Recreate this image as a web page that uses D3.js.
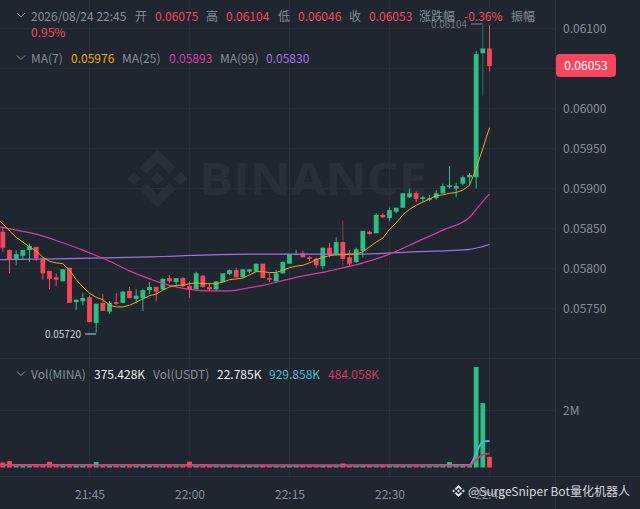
<!DOCTYPE html>
<html>
<head>
<meta charset="utf-8">
<script src="https://d3js.org/d3.v7.min.js"></script>
<style>
html, body { margin: 0; padding: 0; background: #1f2630; }
#container { width: 640px; height: 509px; overflow: hidden; }
svg { display: block; font-family: 'Noto Sans CJK SC', 'Noto Sans', sans-serif; }
</style>
</head>
<body>
<div id="container"></div>
<script>
// one minute candles, 21:32 to 22:45
const opens = [0.05846,0.05823,0.05812,0.05816,0.05823,0.05827,0.05812,0.05797,0.05789,0.05784,0.05801,0.05758,0.05759,0.05764,0.05732,0.05757,0.05746,0.05758,0.05757,0.05772,0.05762,0.05763,0.05773,0.05777,0.05774,0.05788,0.05783,0.05788,0.05778,0.05774,0.05791,0.05777,0.05774,0.05783,0.05793,0.05798,0.05789,0.05796,0.05796,0.05806,0.05788,0.05784,0.05794,0.05806,0.05817,0.05819,0.05814,0.05812,0.05803,0.05826,0.05818,0.05833,0.05814,0.05808,0.05822,0.05846,0.05844,0.05867,0.05863,0.05871,0.05876,0.05889,0.05894,0.05887,0.05886,0.05888,0.05894,0.05902,0.05900,0.05906,0.05914,0.05914,0.06069,0.06075];
const highs = [0.05852,0.05824,0.05823,0.05823,0.05831,0.05827,0.05813,0.05797,0.05794,0.05799,0.05801,0.05761,0.05769,0.05766,0.05756,0.05768,0.05759,0.05769,0.05772,0.05777,0.05774,0.05774,0.05783,0.05777,0.05788,0.05792,0.05788,0.05789,0.05784,0.05796,0.05792,0.05782,0.05784,0.05794,0.05799,0.05801,0.05799,0.05799,0.05806,0.05806,0.05794,0.05798,0.05809,0.05818,0.05823,0.05822,0.05816,0.05814,0.05826,0.05832,0.05839,0.05860,0.05823,0.05826,0.05847,0.05847,0.05869,0.05869,0.05876,0.05876,0.05894,0.05900,0.05896,0.05891,0.05892,0.05898,0.05906,0.05928,0.05907,0.05916,0.05919,0.06072,0.06104,0.06104];
const lows = [0.05821,0.05794,0.05804,0.05811,0.05808,0.05809,0.05786,0.05774,0.05778,0.05784,0.05757,0.05748,0.05754,0.05733,0.05720,0.05747,0.05743,0.05754,0.05757,0.05763,0.05756,0.05747,0.05768,0.05759,0.05773,0.05782,0.05777,0.05777,0.05763,0.05774,0.05776,0.05772,0.05772,0.05783,0.05792,0.05789,0.05789,0.05794,0.05796,0.05788,0.05783,0.05783,0.05793,0.05806,0.05817,0.05814,0.05809,0.05801,0.05799,0.05814,0.05817,0.05803,0.05802,0.05807,0.05814,0.05842,0.05844,0.05863,0.05859,0.05869,0.05876,0.05888,0.05883,0.05883,0.05884,0.05886,0.05893,0.05900,0.05889,0.05904,0.05906,0.05900,0.06016,0.06046];
const closes = [0.05826,0.05811,0.05818,0.05823,0.05828,0.05813,0.05794,0.05787,0.05786,0.05799,0.05757,0.05761,0.05763,0.05733,0.05756,0.05747,0.05757,0.05756,0.05771,0.05763,0.05766,0.05773,0.05777,0.05771,0.05787,0.05784,0.05788,0.05778,0.05774,0.05794,0.05777,0.05774,0.05784,0.05794,0.05798,0.05789,0.05799,0.05799,0.05806,0.05788,0.05786,0.05794,0.05808,0.05818,0.05818,0.05814,0.05812,0.05804,0.05826,0.05817,0.05833,0.05812,0.05806,0.05824,0.05847,0.05843,0.05867,0.05864,0.05873,0.05876,0.05894,0.05894,0.05887,0.05889,0.05888,0.05894,0.05903,0.05904,0.05903,0.05914,0.05917,0.06068,0.06075,0.06053];
const volumes = [175,225,85,70,75,95,90,200,80,60,110,70,75,100,190,70,60,85,80,70,60,55,65,70,60,55,60,70,205,60,110,70,60,55,65,50,70,60,45,50,70,50,45,55,50,60,55,45,50,60,45,140,70,55,60,55,45,60,70,50,55,60,60,50,60,70,80,190,110,120,110,3526,2260,375.428];

// moving averages read at these candle positions (-1 is the candle just off the left edge)
const ma7Index = d3.range(-1, 74);
const ma7Values = [0.05863,0.05856,0.05847,0.05839,0.05833,0.05827,0.05822,0.05814,0.05809,0.05807,0.05806,0.05798,0.05786,0.05777,0.05769,0.05764,0.05761,0.05754,0.05752,0.05752,0.05754,0.05758,0.05762,0.05766,0.05768,0.05773,0.05777,0.05779,0.05779,0.05781,0.05782,0.05781,0.05781,0.05781,0.05783,0.05786,0.05787,0.05788,0.05792,0.05796,0.05796,0.05795,0.05795,0.05798,0.05801,0.05803,0.05804,0.05807,0.05811,0.05814,0.05816,0.05817,0.05817,0.05818,0.05818,0.05821,0.05827,0.05833,0.05838,0.05849,0.05857,0.05867,0.05874,0.05879,0.05883,0.05887,0.05891,0.05892,0.05894,0.05895,0.05898,0.05904,0.05925,0.05950,0.05976];
const ma25Index = [-1,2,5,8,12,16,19,22,25,28,31,34,37,39,44,49,54,58,62,66,70,71,72,73];
const ma25Values = [0.05853,0.05848,0.05843,0.05835,0.05823,0.05809,0.05797,0.05787,0.05779,0.05774,0.05772,0.05772,0.05776,0.05779,0.05789,0.05797,0.05807,0.05818,0.05833,0.05848,0.05864,0.05874,0.05884,0.05893];
const ma99Index = [-1,8,24,37,49,54,62,70,73];
const ma99Values = [0.05811,0.05812,0.05815,0.05818,0.05818,0.05818,0.05821,0.05824,0.05830];
const volMaIndex = [-1,10,28,50,69,70,71,72,73];
const volMa1Values = [90,85,80,72,80,82,510,910,929.858];
const volMa2Values = [85,75,70,65,65,68,263,456,484.058];

const priceTicks = [0.061,0.0605,0.06,0.0595,0.059,0.0585,0.058,0.0575];
const priceLabels = [0.061,0.06,0.0595,0.059,0.0585,0.058,0.0575];  // 0.0605 sits under the price tag
const volTicks = [2000];
const timeTicks = ['21:45','22:00','22:15','22:30','22:45'];
const dimWicks = [51, 72];

const headerRow = [
    ['2026/08/24 22:45', 31, 'label'], ['开', 135, 'label'], ['0.06075', 155, 'red'],
    ['高', 206, 'label'], ['0.06104', 226, 'red'], ['低', 278, 'label'], ['0.06046', 298, 'red'],
    ['收', 349, 'label'], ['0.06053', 369, 'red'], ['涨跌幅', 419, 'label'], ['-0.36%', 464, 'red'],
    ['振幅', 511, 'label']
];
const maRow = [
    ['MA(7)', 31, 'label'], ['0.05976', 71, 'ma7'], ['MA(25)', 122, 'label'], ['0.05893', 169, 'ma25'],
    ['MA(99)', 220, 'label'], ['0.05830', 266, 'ma99']
];
const volRow = [
    ['Vol(MINA)', 31, 'label'], ['375.428K', 94, 'white'], ['Vol(USDT)', 153, 'label'],
    ['22.785K', 217, 'white'], ['929.858K', 269, 'volMa1'], ['484.058K', 328, 'volMa2']
];

const colorMap = {
    label: '#848e9c',
    red: '#f6465d',
    green: '#2ebd85',
    white: '#eaecef',
    ma7: '#e5ac0e',
    ma25: '#d83a9e',
    ma99: '#9d72e2',
    volMa1: '#4fb8d0',
    volMa2: '#d8346a',
    grid: '#282f3a',
    border: '#2e3540',
    mark: '#292f39',
};

const svg = d3.select('#container')
    .append('svg')
    .attr('width', 640)
    .attr('height', 509)
    .style('background-color', '#1f2630');

const parseClock = d3.timeParse('%H:%M');
const formatClock = d3.timeFormat('%H:%M');
const timeOf = i => d3.timeMinute.offset(parseClock('21:32'), i);

const xScale = d3.scaleTime()
    .domain([parseClock('21:45'), parseClock('22:45')])
    .range([89.5, 489.5]);
const yScale = d3.scaleLinear()
    .domain([0.061, 0.0575])
    .range([28.5, 308.5]);
const volScale = d3.scaleLinear()
    .domain([0, 2000])
    .range([467.5, 410.5]);

const grid = svg.append('g');
timeTicks.forEach(t => {
    grid.append('line')
        .attr('x1', xScale(parseClock(t))).attr('x2', xScale(parseClock(t)))
        .attr('y1', 0).attr('y2', 476)
        .attr('stroke', colorMap.grid);
});
priceTicks.forEach(p => {
    grid.append('line')
        .attr('x1', 0).attr('x2', 555)
        .attr('y1', yScale(p)).attr('y2', yScale(p))
        .attr('stroke', colorMap.grid);
});
volTicks.forEach(v => {
    grid.append('line')
        .attr('x1', 0).attr('x2', 555)
        .attr('y1', volScale(v)).attr('y2', volScale(v))
        .attr('stroke', colorMap.grid);
});
// pane borders
[358.5, 476.5].forEach(y => {
    grid.append('line').attr('x1', 0).attr('x2', 640).attr('y1', y).attr('y2', y)
        .attr('stroke', colorMap.border);
});
grid.append('line').attr('x1', 555.5).attr('x2', 555.5).attr('y1', 0).attr('y2', 509)
    .attr('stroke', colorMap.border);

// watermark
const logoPieces = [
    '0,-6.7 6.7,0 0,6.7 -6.7,0',
    '-23.3,-6.7 -16.6,0 -23.3,6.7 -30,0',
    '23.3,-6.7 30,0 23.3,6.7 16.6,0',
    '0,-29 18,-11 11.5,-4.6 0,-16 -11.5,-4.6 -18,-11',
    '0,29 18,11 11.5,4.6 0,16 -11.5,4.6 -18,11',
];
const logo = svg.append('g').attr('transform', 'translate(157.5,178.5)');
logoPieces.forEach(p => logo.append('polygon').attr('points', p).attr('fill', colorMap.mark));
svg.append('text')
    .text('BINANCE')
    .attr('x', 199).attr('y', 195)
    .attr('textLength', 228)
    .attr('lengthAdjust', 'spacingAndGlyphs')
    .style('font-family', '\'Open Sans\', sans-serif')
    .style('font-weight', 700)
    .style('font-size', '44px')
    .style('fill', colorMap.mark);

// moving average lines
const drawLine = (indexes, values, scale, color, width, curve) => {
    const line = d3.line()
        .x(i => xScale(timeOf(indexes[i])))
        .y(i => scale(values[i]))
        .curve(curve);
    return svg.append('path')
        .attr('d', line(d3.range(indexes.length)))
        .attr('fill', 'none')
        .attr('stroke', color)
        .attr('stroke-width', width);
};

// candles
const bodyWidth = 4.8;
const candles = svg.append('g');
opens.forEach((open, i) => {
    const cx = xScale(timeOf(i));
    const color = closes[i] >= open ? colorMap.green : colorMap.red;
    candles.append('line')
        .attr('x1', cx).attr('x2', cx)
        .attr('y1', yScale(highs[i])).attr('y2', yScale(lows[i]))
        .attr('stroke', color)
        .attr('stroke-width', 1)
        .attr('stroke-opacity', dimWicks.includes(i) ? 0.55 : 1);
    candles.append('rect')
        .attr('x', cx - bodyWidth / 2)
        .attr('width', bodyWidth)
        .attr('y', yScale(Math.max(open, closes[i])))
        .attr('height', Math.max(1, Math.abs(yScale(open) - yScale(closes[i]))))
        .attr('fill', color);
    // volume bar
    svg.append('rect')
        .attr('x', cx - bodyWidth / 2)
        .attr('width', bodyWidth)
        .attr('y', volScale(volumes[i]))
        .attr('height', volScale(0) - volScale(volumes[i]))
        .attr('fill', color);
});

drawLine(ma99Index, ma99Values, yScale, colorMap.ma99, 1.2, d3.curveMonotoneX);
drawLine(ma25Index, ma25Values, yScale, colorMap.ma25, 1.2, d3.curveMonotoneX);
drawLine(ma7Index, ma7Values, yScale, colorMap.ma7, 1, d3.curveLinear);
drawLine(volMaIndex, volMa1Values, volScale, colorMap.volMa1, 1.8, d3.curveMonotoneX);
drawLine(volMaIndex, volMa2Values, volScale, colorMap.volMa2, 1.8, d3.curveMonotoneX);

// axes
const priceAxis = d3.axisRight(yScale)
    .tickValues(priceLabels)
    .tickSize(0)
    .tickPadding(0)
    .tickFormat(d3.format('.5f'));
const volAxis = d3.axisRight(volScale)
    .tickValues(volTicks)
    .tickSize(0)
    .tickPadding(0)
    .tickFormat(d => d / 1000 + 'M');
const timeAxis = d3.axisBottom(xScale)
    .tickValues(timeTicks.map(parseClock))
    .tickSize(0)
    .tickPadding(0)
    .tickFormat(formatClock);

[
    svg.append('g').attr('transform', 'translate(563,0)').call(priceAxis),
    svg.append('g').attr('transform', 'translate(563,0)').call(volAxis),
    svg.append('g').attr('transform', 'translate(0,490)').call(timeAxis),
].forEach(axis => {
    axis.select('.domain').remove();
    axis.selectAll('text')
        .style('font-family', '\'Noto Sans CJK SC\', sans-serif')
        .style('font-size', '12px')
        .style('fill', colorMap.label);
});

// last price tag
svg.append('rect')
    .attr('x', 556).attr('y', 54)
    .attr('width', 60).attr('height', 23)
    .attr('rx', 4)
    .attr('fill', colorMap.red);
svg.append('text')
    .text(d3.format('.5f')(closes[closes.length - 1]))
    .attr('x', 586).attr('y', 70)
    .attr('text-anchor', 'middle')
    .style('font-size', '12px')
    .style('fill', '#ffffff');

// high and low notes
const highAt = highs.indexOf(d3.max(highs));
svg.append('line')
    .attr('x1', 471).attr('x2', xScale(timeOf(highAt)))
    .attr('y1', 24).attr('y2', 24)
    .attr('stroke', colorMap.label);
svg.append('text')
    .text(d3.format('.5f')(d3.max(highs)))
    .attr('x', 467).attr('y', 28)
    .attr('text-anchor', 'end')
    .style('font-size', '10px')
    .style('fill', '#6f7885');
const lowAt = lows.indexOf(d3.min(lows));
svg.append('line')
    .attr('x1', 85).attr('x2', xScale(timeOf(lowAt)))
    .attr('y1', 334).attr('y2', 334)
    .attr('stroke', '#c9ced6');
svg.append('text')
    .text(d3.format('.5f')(d3.min(lows)))
    .attr('x', 81).attr('y', 338)
    .attr('text-anchor', 'end')
    .style('font-size', '10px')
    .style('fill', '#c9ced6');

// legend rows
const drawRow = (row, baseline) => {
    row.forEach(([label, x, color]) => {
        svg.append('text')
            .text(label)
            .attr('x', x).attr('y', baseline)
            .style('font-size', '12px')
            .style('fill', colorMap[color]);
    });
    svg.append('polyline')
        .attr('points', `17,${baseline - 7.5} 21,${baseline - 3.5} 25,${baseline - 7.5}`)
        .attr('fill', 'none')
        .attr('stroke', colorMap.label);
};
drawRow(headerRow, 20.5);
svg.append('text')
    .text('0.95%')
    .attr('x', 31).attr('y', 37)
    .style('font-size', '12px')
    .style('fill', colorMap.red);
drawRow(maRow, 63);
drawRow(volRow, 379);

// author mark at the bottom right
const smallLogo = svg.append('g').attr('transform', 'translate(458.5,491) scale(0.21)');
logoPieces.forEach(p => smallLogo.append('polygon').attr('points', p).attr('fill', '#e4e6ea'));
svg.append('text')
    .text('@SurgeSniper Bot量化机器人')
    .attr('x', 468).attr('y', 496)
    .style('font-size', '12px')
    .style('fill', '#d4d7dc');
</script>
</body>
</html>
